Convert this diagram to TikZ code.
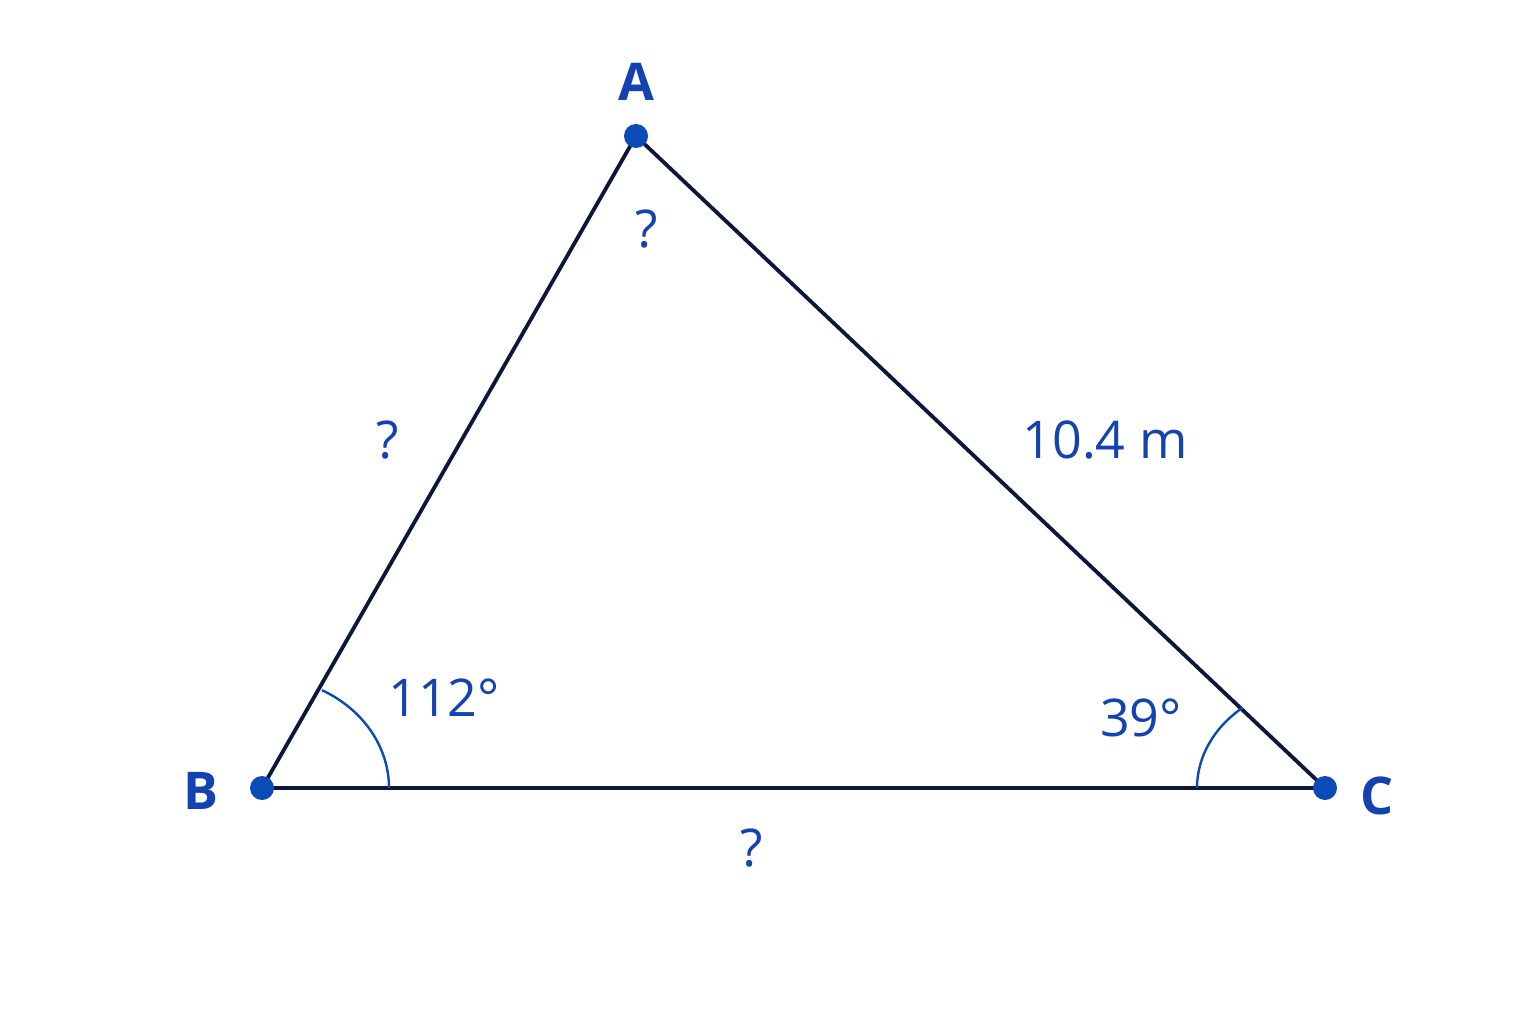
\documentclass[tikz,border=0pt]{standalone}
\usepackage{fontspec}
\setmainfont{Open Sans}
\definecolor{navy}{HTML}{0B1838}
\definecolor{dotblue}{HTML}{0A4BB8}
\definecolor{txtblue}{HTML}{1443B0}
\begin{document}
\begin{tikzpicture}[x=1pt,y=-1pt,
  side/.style={draw=navy,line width=3.8pt,line join=round},
  arcline/.style={draw=dotblue,line width=2.4pt},
  vdot/.style={circle,fill=dotblue,inner sep=0pt,minimum size=24pt},
  vlabel/.style={text=txtblue,font=\fontsize{52}{60}\selectfont\bfseries,inner sep=0pt},
  mlabel/.style={text=txtblue,font=\fontsize{52}{60}\selectfont,inner sep=0pt}]
\useasboundingbox[fill=white] (0,0) rectangle (1536,1024);
\coordinate (A) at (636,136);
\coordinate (B) at (262,788);
\coordinate (C) at (1325,788);
\path[side] (A) -- (B) -- (C) -- cycle;
\draw[arcline] ([shift={(127,0)}]B) arc[start angle=0,end angle=-61.8,x radius=127,y radius=111];
\draw[arcline] ([shift={(-128,0)}]C) arc[start angle=180,end angle=229.6,x radius=128,y radius=105];
\node[vdot] (dA) at (A) {};
\node[vdot] (dB) at (B) {};
\node[vdot] (dC) at (C) {};
\node[vlabel] (lA) at (636,82) {A};
\node[vlabel] (lB) at (201,791) {B};
\node[vlabel] (lC) at (1377,796) {C};
\node[mlabel] (qA) at (647,229) {?};
\node[mlabel] (qAB) at (388,440) {?};
\node[mlabel] (qBC) at (752,848) {?};
\node[mlabel] (sAC) at (1105,440) {10.4 m};
\node[mlabel] (angB) at (444,698) {112°};
\node[mlabel] (angC) at (1141,718) {39°};
\end{tikzpicture}
\end{document}
